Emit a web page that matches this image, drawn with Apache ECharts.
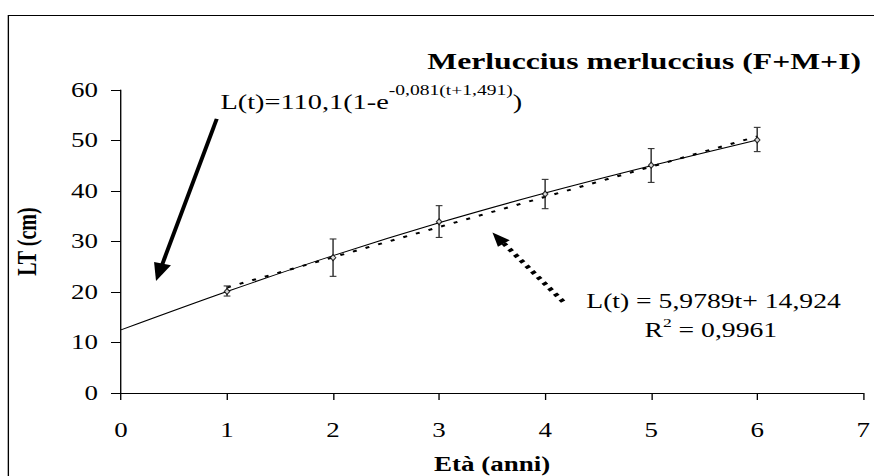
<!DOCTYPE html>
<html>
<head>
<meta charset="utf-8">
<script src="https://cdn.jsdelivr.net/npm/echarts@6/dist/echarts.min.js"></script>
<style>
html,body{margin:0;padding:0;background:#fff;overflow:hidden;}
#wrap{width:874px;height:476px;overflow:hidden;}
#chart{width:648px;height:476px;transform:scaleX(1.3488);transform-origin:0 0;}
</style>
</head>
<body>
<div id="wrap"><div id="chart"></div></div>
<script>
// Observed mean length at age with error bars
const ages = [1, 2, 3, 4, 5, 6];
const meanLT = [20.1, 26.8, 33.9, 39.4, 45.1, 50.1];
const errLow = [19.2, 23.1, 30.8, 36.5, 41.7, 47.8];
const errHigh = [21.2, 30.5, 37.1, 42.3, 48.4, 52.6];
// von Bertalanffy curve
const vbgfAges = [0, 1, 2, 3, 4, 5, 6];
const vbgfLT = [12.5, 20.1, 27.2, 33.7, 39.6, 45.0, 50.1];
// linear trend line (end points)
const trendAges = [1, 6];
const trendLT = [20.9, 50.8];
// axis ticks
const xTicks = [0, 1, 2, 3, 4, 5, 6, 7];
const yTicks = [0, 10, 20, 30, 40, 50, 60];
// annotation arrows (in data units)
const solidArrow = [[0.903, 54.3], [0.361, 23.9]];
const dottedArrow = [[4.17, 18.1], [3.557, 30.7]];

const FONT = "'Liberation Serif', 'Times New Roman', serif";
const chart = echarts.init(document.getElementById('chart'), null, {renderer: 'svg'});

const zip = (a, b) => a.map((v, i) => [v, b[i]]);

chart.setOption({
  animation: false,
  backgroundColor: '#fff',
  title: [
    {
      text: 'Merluccius merluccius (F+M+I)',
      right: 4.5, top: 44,
      textStyle: {fontFamily: FONT, fontSize: 23.5, fontWeight: 'bold', color: '#000'}
    },
    {
      text: '{a|L(t)=110,1(1-e}{s|-0,081(t+1,491)}{a|)}',
      left: 158.5, top: 78,
      textStyle: {
        fontFamily: FONT, color: '#000', fontWeight: 'normal',
        rich: {
          a: {fontFamily: FONT, fontSize: 21, fontWeight: 'normal', color: '#000', verticalAlign: 'bottom', lineHeight: 29},
          s: {fontFamily: FONT, fontSize: 14.5, fontWeight: 'normal', color: '#000', verticalAlign: 'top', lineHeight: 29}
        }
      }
    }
  ],
  graphic: [
    {
      type: 'rect', left: 3.7, top: 13, silent: true,
      shape: {width: 700, height: 500},
      style: {fill: 'none', stroke: '#000', lineWidth: 1}
    },
    {
      type: 'text', x: 529, y: 301, silent: true,
      style: {text: 'L(t) = 5,9789t+ 14,924', font: '20.5px ' + FONT, fill: '#000', align: 'center', verticalAlign: 'middle'}
    },
    {
      type: 'text', x: 527, y: 328, silent: true,
      style: {
        text: '{r|R}{s|2}{r| = 0,9961}', align: 'center', verticalAlign: 'middle',
        rich: {
          r: {fontFamily: FONT, fontSize: 20.5, fill: '#000', verticalAlign: 'bottom', lineHeight: 24},
          s: {fontFamily: FONT, fontSize: 13, fill: '#000', verticalAlign: 'top', lineHeight: 24}
        }
      }
    }
  ],
  grid: {left: 89.7, right: 8, top: 90, bottom: 83, outerBoundsMode: 'none', containLabel: false},
  xAxis: {
    type: 'value', min: xTicks[0], max: xTicks[xTicks.length - 1], interval: 1,
    name: 'Età (anni)', nameLocation: 'middle', nameGap: 61,
    nameTextStyle: {fontFamily: FONT, fontSize: 20, fontWeight: 'bold', color: '#000'},
    axisLine: {lineStyle: {color: '#000', width: 1}},
    axisTick: {show: true, inside: false, length: 7, lineStyle: {color: '#000'}},
    axisLabel: {fontFamily: FONT, fontSize: 20, color: '#000', margin: 27},
    splitLine: {show: false}
  },
  yAxis: {
    type: 'value', min: yTicks[0], max: yTicks[yTicks.length - 1], interval: 10,
    name: 'LT (cm)', nameLocation: 'middle', nameGap: 60, nameRotate: 90,
    nameTextStyle: {fontFamily: FONT, fontSize: 20, fontWeight: 'bold', color: '#000'},
    axisLine: {show: true, lineStyle: {color: '#000', width: 1}},
    axisTick: {show: true, inside: false, length: 7.4, lineStyle: {color: '#000'}},
    axisLabel: {fontFamily: FONT, fontSize: 20, color: '#000', margin: 17},
    splitLine: {show: false}
  },
  series: [
    {
      type: 'line', name: 'VBGF', data: zip(vbgfAges, vbgfLT), smooth: 0.3,
      showSymbol: false, lineStyle: {color: '#000', width: 1}, z: 3,
      markLine: {
        silent: true, animation: false,
        label: {show: false},
        emphasis: {disabled: true},
        data: [
          [
            {coord: solidArrow[0], symbol: 'none', lineStyle: {color: '#000', width: 3, type: 'solid'}},
            {coord: solidArrow[1], symbol: 'triangle', symbolSize: [13, 18]}
          ],
          [
            {coord: dottedArrow[0], symbol: 'none', lineStyle: {color: '#000', width: 4, type: [3, 4]}},
            {coord: dottedArrow[1], symbol: 'triangle', symbolSize: [11, 14]}
          ]
        ]
      }
    },
    {
      type: 'line', name: 'trend', data: zip(trendAges, trendLT),
      showSymbol: false, lineStyle: {color: '#000', width: 2, type: [3, 7]}, z: 3
    },
    {
      type: 'custom', name: 'err',
      data: ages.map((a, i) => [a, errLow[i], errHigh[i]]),
      renderItem: function (params, api) {
        const lo = api.coord([api.value(0), api.value(1)]);
        const hi = api.coord([api.value(0), api.value(2)]);
        const hw = 2.5;
        const st = {stroke: '#333', lineWidth: 1.1};
        return {
          type: 'group',
          children: [
            {type: 'line', shape: {x1: lo[0], y1: lo[1], x2: hi[0], y2: hi[1]}, style: st},
            {type: 'line', shape: {x1: lo[0] - hw, y1: lo[1], x2: lo[0] + hw, y2: lo[1]}, style: st},
            {type: 'line', shape: {x1: hi[0] - hw, y1: hi[1], x2: hi[0] + hw, y2: hi[1]}, style: st}
          ]
        };
      },
      z: 4
    },
    {
      type: 'scatter', name: 'mean', data: zip(ages, meanLT),
      symbol: 'diamond', symbolSize: [4, 6],
      itemStyle: {color: '#fff', borderColor: '#000', borderWidth: 1}, z: 5
    }
  ]
});
</script>
</body>
</html>
